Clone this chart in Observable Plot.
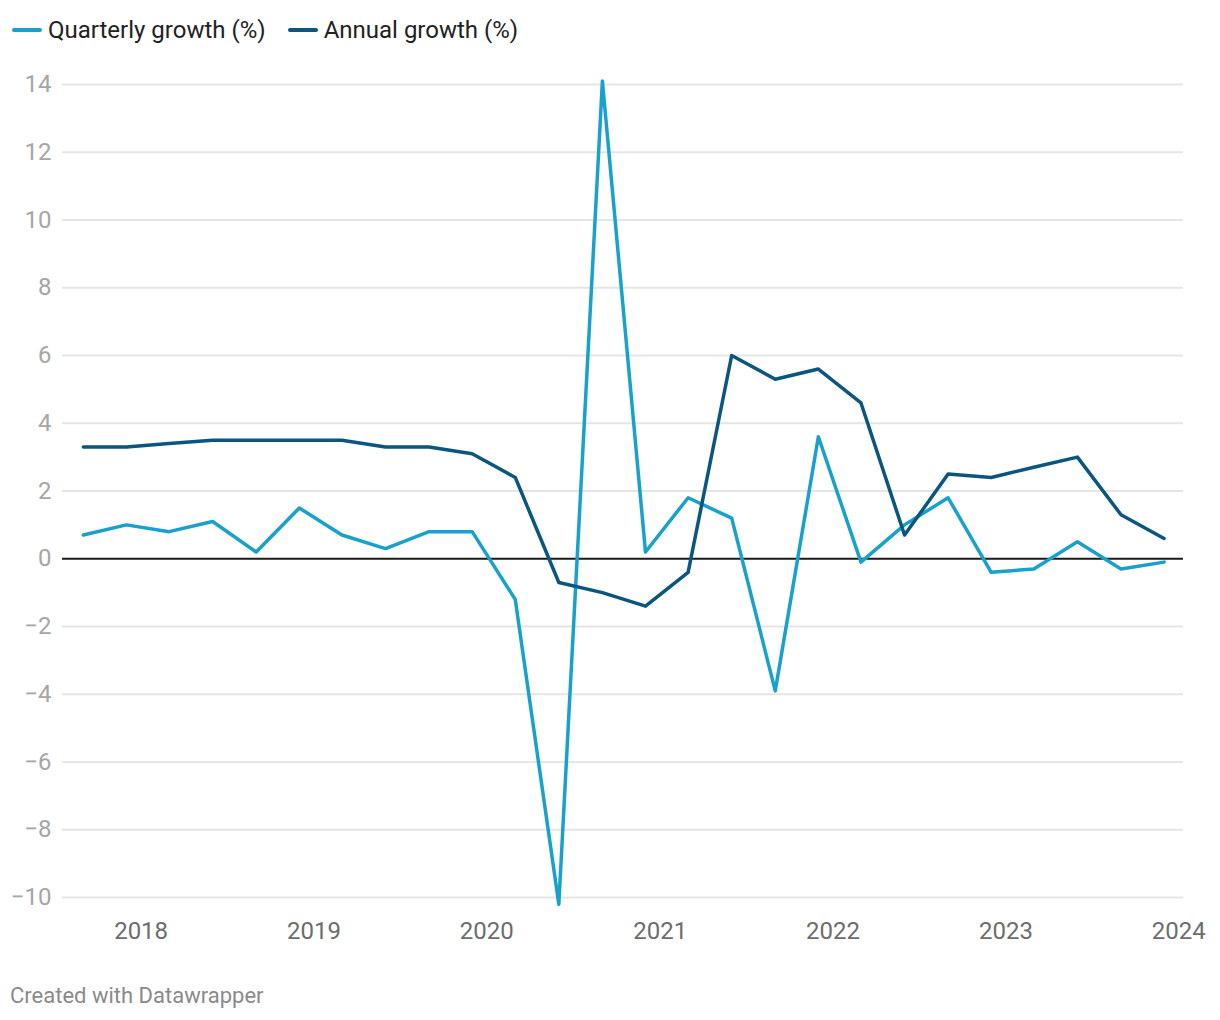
<!DOCTYPE html>
<html>
<head>
<meta charset="utf-8">
<script src="https://cdn.jsdelivr.net/npm/d3@7"></script>
<script src="https://cdn.jsdelivr.net/npm/@observablehq/plot@0.6"></script>
<style>
  html, body { margin: 0; padding: 0; background: #fff; }
  body { width: 1220px; height: 1020px; position: relative; font-family: Roboto, "Noto Sans", sans-serif; overflow: hidden; }
  #legend { position: absolute; left: 12px; top: 15px; display: flex; align-items: center; font-size: 24px; line-height: 30px; color: #222; }
  .item { display: flex; align-items: center; margin-right: 22px; }
  .sw { width: 30px; height: 4px; border-radius: 2px; margin-right: 6px; }
  #chart { position: absolute; left: 0; top: 0; }
  #footer { position: absolute; left: 10px; top: 983px; font-size: 22px; color: #8a8a8a; }
</style>
</head>
<body>
<div id="chart"></div>
<div id="legend"></div>
<div id="footer">Created with Datawrapper</div>
<script>
// Quarter dates (as plotted)
const dates = [
  "2017-09-01","2017-12-01","2018-03-01","2018-06-01","2018-09-01","2018-12-01",
  "2019-03-01","2019-06-01","2019-09-01","2019-12-01","2020-03-01","2020-06-01",
  "2020-09-01","2020-12-01","2021-03-01","2021-06-01","2021-09-01","2021-12-01",
  "2022-03-01","2022-06-01","2022-09-01","2022-12-01","2023-03-01","2023-06-01",
  "2023-09-01","2023-12-01"
];
const quarterlyGrowth = [
  0.7, 1.0, 0.8, 1.1, 0.2, 1.5,
  0.7, 0.3, 0.8, 0.8, -1.2, -10.2,
  14.1, 0.2, 1.8, 1.2, -3.9, 3.6,
  -0.1, 1.0, 1.8, -0.4, -0.3, 0.5,
  -0.3, -0.1
];
const annualGrowth = [
  3.3, 3.3, 3.4, 3.5, 3.5, 3.5,
  3.5, 3.3, 3.3, 3.1, 2.4, -0.7,
  -1.0, -1.4, -0.4, 6.0, 5.3, 5.6,
  4.6, 0.7, 2.5, 2.4, 2.7, 3.0,
  1.3, 0.6
];
const seriesNames = ["Quarterly growth (%)", "Annual growth (%)"];
const seriesColors = ["#18a1cd", "#0a5680"];
const yTicks = [-10, -8, -6, -4, -2, 0, 2, 4, 6, 8, 10, 12, 14];
const xTickYears = [2018, 2019, 2020, 2021, 2022, 2023, 2024];

const parse = d3.utcParse("%Y-%m-%d");
const rows = [];
dates.forEach((d, i) => {
  rows.push({date: parse(d), value: quarterlyGrowth[i], series: seriesNames[0]});
  rows.push({date: parse(d), value: annualGrowth[i], series: seriesNames[1]});
});
const xTicks = xTickYears.map(y => new Date(Date.UTC(y, 0, 1)));

const chart = Plot.plot({
  width: 1220,
  height: 960,
  marginLeft: 62,
  marginRight: 37,
  marginTop: 84,
  marginBottom: 63,
  style: {fontFamily: "Roboto, sans-serif", fontSize: "24px", background: "transparent", overflow: "visible"},
  x: {type: "utc", domain: [new Date(Date.UTC(2017, 6, 19)), new Date(Date.UTC(2024, 0, 11))]},
  y: {domain: [-10, 14]},
  color: {domain: seriesNames, range: seriesColors},
  marks: [
    Plot.ruleY(yTicks.filter(v => v !== 0), {stroke: "#e5e5e5", strokeWidth: 2}),
    Plot.axisY(yTicks, {tickSize: 0, tickPadding: 11, label: null, fill: "#a6a6a6", fontSize: 24}),
    Plot.axisX(xTicks, {tickSize: 0, tickPadding: 24, label: null, fill: "#6d6d6d", fontSize: 24, tickFormat: d3.utcFormat("%Y")}),
    Plot.ruleY([0], {stroke: "#1a1a1a", strokeWidth: 2}),
    Plot.line(rows, {x: "date", y: "value", z: "series", stroke: "series", strokeWidth: 3.5, strokeLinejoin: "round", strokeLinecap: "round"})
  ]
});
document.getElementById("chart").appendChild(chart);

const legend = document.getElementById("legend");
seriesNames.forEach((name, i) => {
  const item = document.createElement("div");
  item.className = "item";
  const sw = document.createElement("div");
  sw.className = "sw";
  sw.style.background = seriesColors[i];
  const t = document.createElement("span");
  t.textContent = name;
  item.appendChild(sw);
  item.appendChild(t);
  legend.appendChild(item);
});
</script>
</body>
</html>
